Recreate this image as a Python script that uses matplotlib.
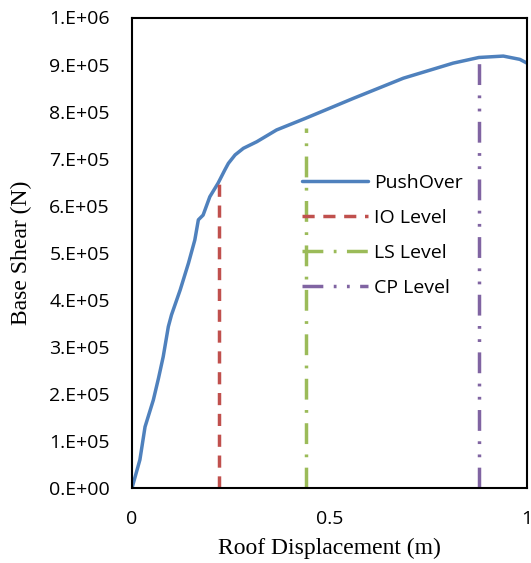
import numpy as np
import matplotlib.pyplot as plt

# pushover curve
disp = [0.0, 0.02, 0.033, 0.054, 0.067, 0.079, 0.092, 0.1, 0.122, 0.143,
        0.159, 0.168, 0.18, 0.197, 0.218, 0.235, 0.244, 0.261, 0.282, 0.316,
        0.366, 0.44, 0.56, 0.687, 0.813, 0.878, 0.94, 0.982, 1.0]
shear = [0.0, 0.06e6, 0.13e6, 0.187e6, 0.233e6, 0.279e6, 0.343e6, 0.368e6,
         0.421e6, 0.478e6, 0.527e6, 0.57e6, 0.58e6, 0.619e6, 0.648e6, 0.676e6,
         0.69e6, 0.708e6, 0.722e6, 0.736e6, 0.761e6, 0.786e6, 0.828e6, 0.871e6,
         0.903e6, 0.915e6, 0.918e6, 0.911e6, 0.903e6]

levels = ['IO Level', 'LS Level', 'CP Level']
level_x = [0.22, 0.44, 0.878]
level_top = [0.651e6, 0.765e6, 0.914e6]
level_colors = ['#c0504d', '#9bbb59', '#8064a2']
level_styles = [(0, (3.5, 2.5)), (0, (6, 3, 0.8, 3)), (0, (6, 3, 0.8, 3, 0.8, 3))]

yticks = np.arange(0, 1.01e6, 1e5)
ytick_labels = ['0.E+00', '1.E+05', '2.E+05', '3.E+05', '4.E+05', '5.E+05',
                '6.E+05', '7.E+05', '8.E+05', '9.E+05', '1.E+06']

fig = plt.figure(figsize=(5.31, 5.63), dpi=100)
ax = fig.add_axes([132 / 531, 1 - 488 / 563, 395 / 531, 470.5 / 563])

ax.plot(disp, shear, color='#4f81bd', lw=2.5, label='PushOver', solid_capstyle='round')
for name, x, top, c, ls in zip(levels, level_x, level_top, level_colors, level_styles):
    ax.plot([x, x], [0, top], color=c, lw=2.5, linestyle=ls, label=name)

ax.set_xlim(0, 1)
ax.set_ylim(0, 1e6)
ax.set_xticks([0, 0.5, 1])
ax.set_xticklabels(['0', '0.5', '1'])
ax.set_yticks(yticks)
ax.set_yticklabels(ytick_labels)
ax.tick_params(length=0, labelsize=14, pad=16)
for lab in ax.get_xticklabels() + ax.get_yticklabels():
    lab.set_family('Open Sans')
for sp in ax.spines.values():
    sp.set_linewidth(1.5)

ax.set_xlabel('Roof Displacement (m)', family='Liberation Serif', fontsize=17, labelpad=7)
ax.set_ylabel('Base Shear (N)', family='Liberation Serif', fontsize=17, labelpad=12)

leg = ax.legend(loc='upper left', bbox_to_anchor=(0.385, 0.705), frameon=False,
                prop={'family': 'Open Sans', 'size': 14}, handlelength=3.4,
                handletextpad=0.35, labelspacing=0.87)

fig.savefig('out.png', dpi=100)
